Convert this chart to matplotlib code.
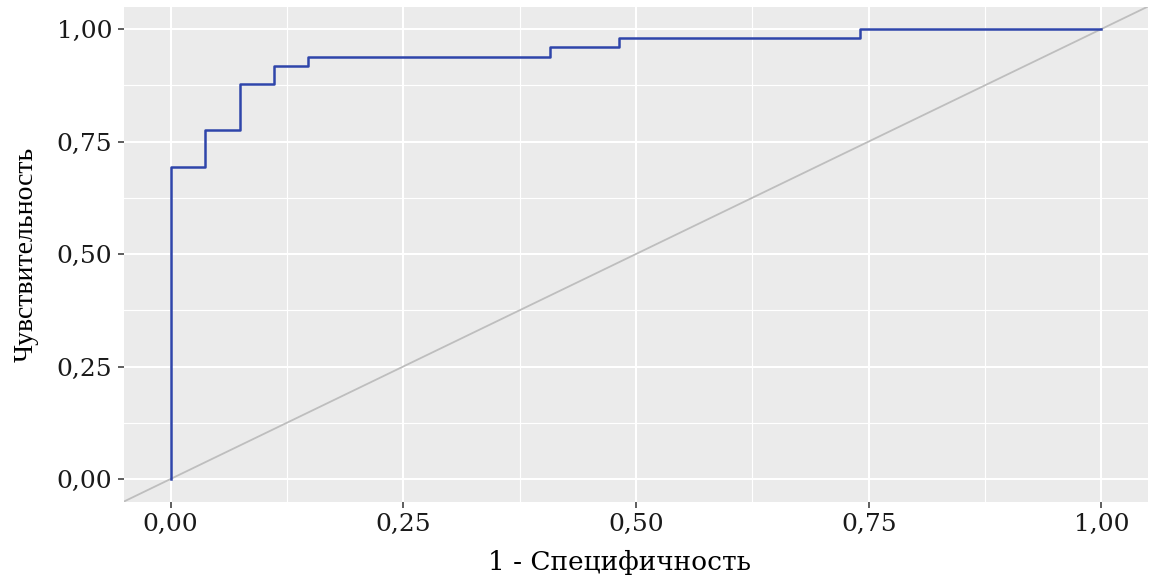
import matplotlib
matplotlib.use("Agg")
import matplotlib.pyplot as plt
import numpy as np
from matplotlib.ticker import MultipleLocator, FuncFormatter

# ROC curve data (1 - specificity, sensitivity)
fpr = [0.0, 0.0, 1/27, 1/27, 2/27, 2/27, 3/27, 3/27, 4/27, 4/27, 11/27, 11/27, 13/27, 13/27, 20/27, 20/27, 1.0]
tpr = [0.0, 34/49, 34/49, 38/49, 38/49, 43/49, 43/49, 45/49, 45/49, 46/49, 46/49, 47/49, 47/49, 48/49, 48/49, 1.0, 1.0]
ticks = [0.0, 0.25, 0.5, 0.75, 1.0]
xlabel = "1 - Специфичность"
ylabel = "Чувствительность"

plt.rcParams['font.family'] = ['DejaVu Serif']

fig = plt.figure(figsize=(11.5, 5.79), dpi=100)
ax = fig.add_axes([124/1150, 1 - 501.5/579, (1148 - 124)/1150, (501.5 - 6.5)/579])
ax.set_facecolor('#EBEBEB')
for s in ax.spines.values():
    s.set_visible(False)

ax.set_xlim(-0.05, 1.05)
ax.set_ylim(-0.05, 1.05)
ax.set_xticks(ticks)
ax.set_yticks(ticks)
ax.xaxis.set_minor_locator(MultipleLocator(0.125))
ax.yaxis.set_minor_locator(MultipleLocator(0.125))
fmt = FuncFormatter(lambda v, p: f"{v:.2f}".replace('.', ','))
ax.xaxis.set_major_formatter(fmt)
ax.yaxis.set_major_formatter(fmt)

ax.grid(which='major', color='white', linewidth=1.5)
ax.grid(which='minor', color='white', linewidth=0.8)
ax.set_axisbelow(True)
ax.tick_params(which='minor', length=0)
ax.tick_params(which='major', length=4.3, width=1.1, color='#333333',
               labelsize=18, labelcolor='#1a1a1a', pad=4)

# diagonal reference line
ax.axline((0, 0), (1, 1), color='#BEBEBE', linewidth=1.3, zorder=2)
ax.plot(fpr, tpr, color='#2F45AA', linewidth=1.8, zorder=3)

ax.set_xlabel(xlabel, fontsize=19, color='black', family='DejaVu Serif')
ax.set_ylabel(ylabel, fontsize=20, color='black', family='Liberation Serif')
ax.xaxis.set_label_coords(0.484, -0.098)
ax.yaxis.set_label_coords(-0.083, 0.5)

fig.savefig('out.png', dpi=100)
